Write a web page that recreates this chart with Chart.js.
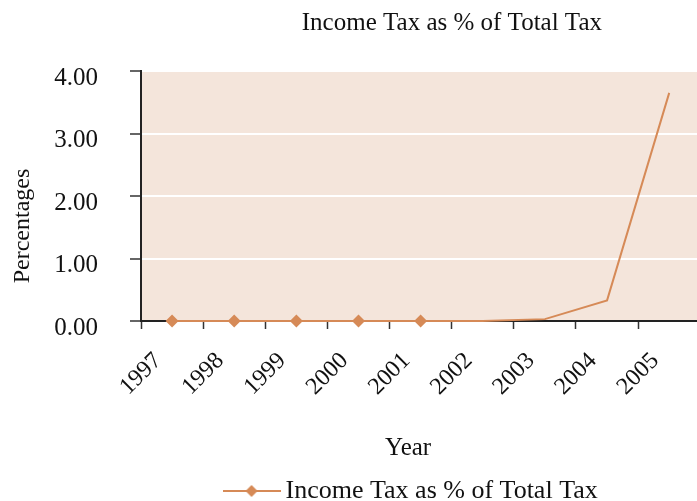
<!DOCTYPE html>
<html>
<head>
<meta charset="utf-8">
<script src="https://cdn.jsdelivr.net/npm/chart.js@4/dist/chart.umd.min.js"></script>
<style>
  html, body { margin: 0; padding: 0; background: #fff; overflow: hidden; }
  #wrap { width: 697px; height: 501px; overflow: hidden; }
</style>
</head>
<body>
<div id="wrap"><canvas id="c" width="708" height="514"></canvas></div>
<script>
// data
const years = ["1997", "1998", "1999", "2000", "2001", "2002", "2003", "2004", "2005"];
const incomeTaxPct = [0, 0, 0, 0, 0, 0, 0.03, 0.33, 3.65];
const markerSizes = [6.5, 6.5, 6.5, 6.5, 6.5, 0, 0, 0, 0];

const LINE_COLOR = "#D68A57";
const FONT = "'Liberation Serif', 'DejaVu Serif', serif";

// legend symbol: short line with a diamond in the middle
function legendSymbol() {
  const cv = document.createElement("canvas");
  cv.width = 58;
  cv.height = 16;
  const g = cv.getContext("2d");
  g.strokeStyle = LINE_COLOR;
  g.lineWidth = 2;
  g.beginPath();
  g.moveTo(0, 8);
  g.lineTo(58, 8);
  g.stroke();
  g.fillStyle = LINE_COLOR;
  g.beginPath();
  g.moveTo(29, 2);
  g.lineTo(35, 8);
  g.lineTo(29, 14);
  g.lineTo(23, 8);
  g.closePath();
  g.fill();
  return cv;
}

const plotBg = {
  id: "plotBg",
  beforeDraw(chart) {
    const { ctx, chartArea } = chart;
    ctx.save();
    ctx.fillStyle = "#F4E5DB";
    ctx.fillRect(chartArea.left, chartArea.top, chartArea.right - chartArea.left, chartArea.bottom - chartArea.top);
    ctx.restore();
  },
};

const symbol = legendSymbol();

new Chart(document.getElementById("c"), {
  type: "line",
  data: {
    labels: years,
    datasets: [
      {
        label: "Income Tax as % of Total Tax  ",
        data: incomeTaxPct,
        borderColor: LINE_COLOR,
        backgroundColor: LINE_COLOR,
        borderWidth: 2,
        tension: 0,
        pointStyle: "rectRot",
        pointRadius: markerSizes,
        pointBorderWidth: 0,
        fill: false,
        clip: false,
      },
    ],
  },
  options: {
    responsive: false,
    animation: false,
    layout: { padding: { left: 0, right: 1, top: 0, bottom: 0 } },
    plugins: {
      title: {
        display: true,
        fullSize: false,
        // leading spaces push the title right of the plot centre, as in the original
        text: "          Income Tax as % of Total Tax",
        color: "#111",
        font: { family: FONT, size: 25, weight: "normal" },
        padding: { top: 8, bottom: 33 },
      },
      legend: {
        position: "bottom",
        fullSize: false,
        labels: {
          color: "#111",
          font: { family: FONT, size: 26 },
          usePointStyle: true,
          pointStyle: symbol,
          pointStyleWidth: 42,
          padding: 6,
        },
      },
      tooltip: { enabled: false },
    },
    scales: {
      x: {
        offset: true,
        grid: {
          offset: true,
          drawOnChartArea: false,
          tickLength: 8,
          tickColor: "#333",
          tickWidth: 1.5,
        },
        border: { color: "#222", width: 2 },
        ticks: {
          color: "#111",
          font: { family: FONT, size: 24 },
          minRotation: 45,
          maxRotation: 45,
          labelOffset: -14,
          padding: 18,
          autoSkip: false,
        },
        title: {
          display: true,
          text: "Year    ",
          color: "#111",
          font: { family: FONT, size: 25 },
          padding: { top: 0, bottom: 9 },
        },
        afterFit(s) {
          s.height = 151;
        },
      },
      y: {
        min: 0,
        max: 4,
        grid: {
          color: "#ffffff",
          lineWidth: 2,
          tickLength: 11,
          tickColor: "#333",
          tickWidth: 1.5,
        },
        border: { color: "#222", width: 2 },
        ticks: {
          stepSize: 1,
          color: "#111",
          font: { family: FONT, size: 25 },
          padding: 32,
          labelOffset: 7,
          callback: (v) => v.toFixed(2),
        },
        title: {
          display: true,
          text: "Percentages          ",
          color: "#111",
          font: { family: FONT, size: 24 },
          padding: { top: 8, bottom: 0 },
        },
        afterFit(s) {
          s.width = 141;
        },
      },
    },
  },
  plugins: [plotBg],
});
</script>
</body>
</html>
